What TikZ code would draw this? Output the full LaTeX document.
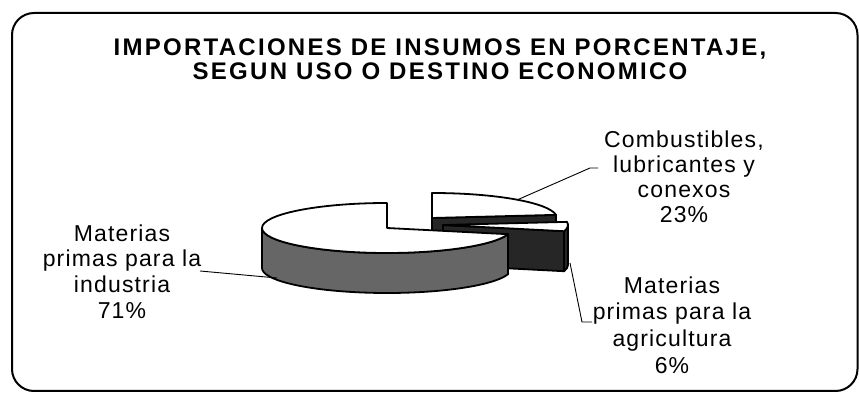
\documentclass[tikz,border=0pt]{standalone}
\usepackage{fontspec}
\setmainfont{Liberation Sans}
\usetikzlibrary{positioning}
\tikzset{
x=1pt, y=1pt, % one unit is one pixel of the scan
rim/.style={x radius=125pt, y radius=25pt}, % ellipse of the pie
pie edge/.style={draw, line width=1.8pt, line join=round}, % outline of every piece
pie top/.style={pie edge, fill=white},
pie side/.style={pie edge, fill=black!60},
pie cut/.style={pie edge, fill=black!85},
leader/.style={draw, line width=0.9pt}, % line from a text to its piece
pie text/.style={align=center, font=\fontsize{23}{25}\selectfont\addfontfeature{LetterSpace=5}},
title text/.style={align=center, font=\fontsize{24}{24}\selectfont\bfseries\addfontfeature{LetterSpace=9.5}},
}

\begin{document}
\begin{tikzpicture}
\useasboundingbox (0,0) rectangle (859,393);

\draw[line width=2pt, rounded corners=22pt] (12,380) rectangle (857.5,2);

\node[title text] at (440,333.5) (title) {IMPORTACIONES DE INSUMOS EN PORCENTAJE,\\SEGUN USO O DESTINO ECONOMICO};

% Combustibles, pulled out to the back
\filldraw[pie cut] (432,175) -- ++(7.2:125 and 25) -- ++(0,-40) -- (432,135) -- cycle;
\filldraw[pie top] (432,175) -- (432,200) arc[rim, start angle=90, end angle=7.2] -- cycle;

% agricultura, pulled out to the right
\filldraw[pie cut] (443,168) -- ++(-14.4:125 and 25) -- ++(0,-40) -- (443,128) -- cycle;
\filldraw[pie cut] (443,168) ++(-14.4:125 and 25) arc[rim, start angle=-14.4, end angle=0] -- ++(0,-40) arc[rim, start angle=0, end angle=-14.4] -- cycle;
\filldraw[pie top] (443,168) -- ++(7.2:125 and 25) arc[rim, start angle=7.2, end angle=-14.4] -- cycle;

% industria
\filldraw[pie side] (262,165) arc[rim, start angle=180, end angle=345.6] -- ++(0,-40) arc[rim, start angle=345.6, end angle=180] -- cycle;
\filldraw[pie top] (387,165) -- (387,190) arc[rim, start angle=90, end angle=345.6] -- cycle;

\node[pie text] at (684,216) (comb) {Combustibles,\\lubricantes y\\conexos\\23\%};
\node[pie text, font=\fontsize{23}{26.7}\selectfont\addfontfeature{LetterSpace=5}] at (672,68) (agri) {Materias\\primas para la\\agricultura\\6\%};
\node[pie text, font=\fontsize{23}{25.8}\selectfont\addfontfeature{LetterSpace=5}] at (122,121.5) (indu) {Materias\\primas para la\\industria\\71\%};

\coordinate (combtip) at (517,193);
\coordinate (combfoot) at (598,225);
\coordinate (agritip) at (570,130);
\coordinate (agrifoot) at (592,71);
\coordinate (indutip) at (277,115);
\coordinate (indufoot) at (200,122);

\draw[leader] (combfoot) -- ++(-8,0) -- (combtip);
\draw[leader] (agrifoot) -- ++(-10,0) -- (agritip);
\draw[leader] (indufoot) -- (indutip);

\end{tikzpicture}
\end{document}
